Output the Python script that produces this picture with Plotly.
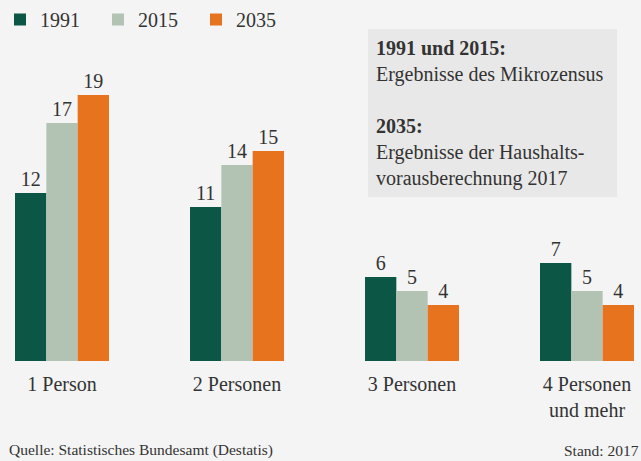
import plotly.graph_objects as go

categories = ["1 Person", "2 Personen", "3 Personen", "4 Personen<br>und mehr"]
years = ["1991", "2015", "2035"]
v1991 = [12, 11, 6, 7]
v2015 = [17, 14, 5, 5]
v2035 = [19, 15, 4, 4]
colors = ["#0b5644", "#b2c3b4", "#e8731e"]

FONT = "Liberation Serif"
TXT = "#333333"

fig = go.Figure()
for name, vals, col in zip(years, [v1991, v2015, v2035], colors):
    fig.add_trace(go.Bar(
        name=name, x=categories, y=vals, marker=dict(color=col, line=dict(width=0)),
        text=[str(v) for v in vals], textposition="outside", cliponaxis=False,
        textfont=dict(family=FONT, size=20, color=TXT),
    ))

W, H = 641, 461
base = 361
def py(ypx):
    return (base - ypx) / base
def px(xpx):
    return xpx / W

fig.add_shape(type="rect", xref="paper", yref="paper",
              x0=px(368), x1=px(617), y0=py(197), y1=py(29),
              fillcolor="#e8e8e8", line=dict(width=0), layer="below")

fig.add_annotation(xref="paper", yref="paper", x=px(374), y=py(35),
                   xanchor="left", yanchor="top", align="left", showarrow=False,
                   text="<b>1991 und 2015:</b><br>Ergebnisse des Mikrozensus<br> <br><b>2035:</b><br>Ergebnisse der Haushalts-<br>vorausberechnung 2017",
                   font=dict(family=FONT, size=20, color=TXT))

fig.add_annotation(xref="paper", yref="paper", x=px(7), y=py(450),
                   xanchor="left", yanchor="middle", showarrow=False,
                   text="Quelle: Statistisches Bundesamt (Destatis)",
                   font=dict(family=FONT, size=15.5, color=TXT))
fig.add_annotation(xref="paper", yref="paper", x=1, y=py(450),
                   xanchor="right", yanchor="middle", showarrow=False,
                   text="Stand: 2017",
                   font=dict(family=FONT, size=15.5, color=TXT))

fig.update_layout(
    width=W, height=H,
    margin=dict(l=0, r=0, t=0, b=H - base, pad=0),
    paper_bgcolor="#f4f4f4", plot_bgcolor="#f4f4f4",
    barmode="group", bargap=0.463, bargroupgap=0,
    showlegend=True,
    legend=dict(orientation="h", x=0, y=1, xanchor="left", yanchor="top",
                font=dict(family=FONT, size=20, color=TXT),
                entrywidth=53, entrywidthmode="pixels",
                bgcolor="rgba(0,0,0,0)"),
    xaxis=dict(range=[-62/175, (641-62)/175], showgrid=False, zeroline=False,
               showline=False, ticks="", ticklabelstandoff=9,
               tickfont=dict(family=FONT, size=20, color=TXT)),
    yaxis=dict(range=[0, base/14], visible=False),
)

fig.write_html("out.html", config={"displayModeBar": False},
               post_script="document.body.style.margin='0';document.body.style.background='#f4f4f4';")
